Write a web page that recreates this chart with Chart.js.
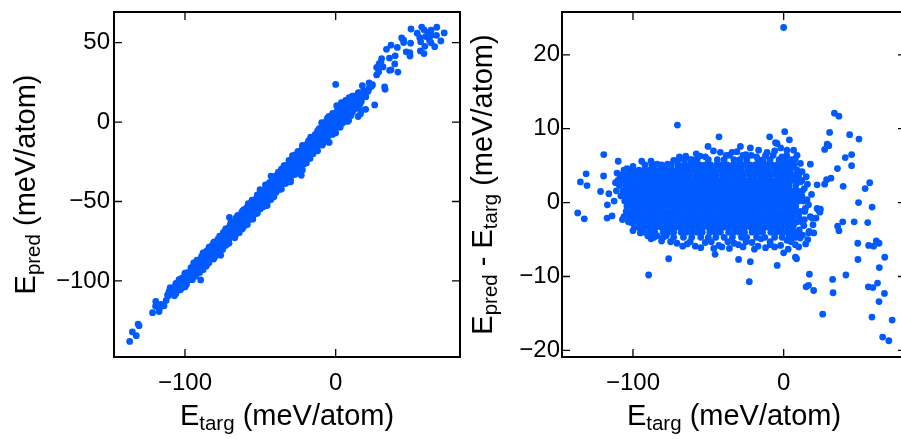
<!DOCTYPE html>
<html>
<head>
<meta charset="utf-8">
<script src="https://cdn.jsdelivr.net/npm/chart.js@4.4.1/dist/chart.umd.min.js"></script>
<style>
  html, body { margin: 0; padding: 0; background: #fff; overflow: hidden; }
  body { width: 901px; height: 439px; position: relative; }
  canvas { position: absolute; top: 0; }
  #parity { left: 0; }
  #resid { left: 460px; }
</style>
</head>
<body>
<canvas id="parity" width="470" height="439"></canvas>
<canvas id="resid" width="460" height="439"></canvas>
<script>
(() => {
  "use strict";

  // ---------- tick values ----------
  const xTicks = [-100, 0];
  const predTicks = [-100, -50, 0, 50];
  const residTicks = [-20, -10, 0, 10, 20];

  // ---------- titles (text, subscript?) ----------
  const xTitle = [["E", 0], ["targ", 1], [" (meV/atom)", 0]];
  const predTitle = [["E", 0], ["pred", 1], [" (meV/atom)", 0]];
  const residTitle = [["E", 0], ["pred", 1], [" - ", 0], ["E", 0], ["targ", 1], [" (meV/atom)", 0]];

  // ---------- data: E_targ and residual E_pred - E_targ (meV/atom) ----------
  // dense core, one list of E_targ per residual row
  const coreResid = [6.4, 5.8, 5.1, 4.4, 3.7, 3.0, 2.3, 1.6, 0.9, 0.2, -0.5, -1.2, -1.9, -2.6, -3.3, -4.0, -4.7, -5.3];
  const coreTarg = [
    [-36, -27, -21.5, -12, -7, 2],
    [-66, -61, -57.5, -50, -44, -39.5, -33, -29, -24.5, -17, -13.5, -9, -3, 1, 5],
    [-92, -87.5, -81, -74.5, -70, -66, -62.5, -59, -55.5, -52, -48.5, -44.5, -41, -37.5, -33.5, -30, -26.5, -22.5, -19, -15.5, -11.5, -8, -4.5, -0.5, 3, 7],
    [-106, -103.5, -100, -96, -92.5, -89, -85.5, -82, -78, -74.5, -71, -67.5, -64, -60, -56.5, -53, -49.5, -46, -42, -38.5, -35, -31.5, -28, -24, -20.5, -17, -13.5, -10, -6, -2.5, 1, 4.5, 9],
    [-108.5, -105.5, -102, -98.5, -94.5, -91, -87.5, -84, -80.5, -76.5, -73, -69.5, -66, -62.5, -58.5, -55, -51.5, -48, -44.5, -40.5, -37, -33.5, -30, -26.5, -22.5, -19, -15.5, -12, -8.5, -4.5, -1, 2.5, 6, 10],
    [-110, -106.5, -103, -99.5, -96, -92.5, -89, -85.5, -82, -78.5, -75, -71.5, -68, -64.5, -61, -57.5, -54, -50.5, -47, -43.5, -40, -36.5, -33, -29.5, -26, -22.5, -19, -15.5, -12, -8.5, -5, -1.5, 2, 5.5, 9, 12],
    [-109, -105, -101.5, -98, -94.5, -91, -87.5, -84, -80.5, -77, -73.5, -70, -66.5, -63, -59.5, -56, -52.5, -49, -45.5, -42, -38.5, -35, -31.5, -28, -24.5, -21, -17.5, -14, -10.5, -7, -3.5, 0, 3.5, 8],
    [-111, -106.5, -103, -99.5, -96, -92.5, -89, -85.5, -82, -78.5, -75, -71.5, -68, -64.5, -61, -57.5, -54, -50.5, -47, -43.5, -40, -36.5, -33, -29.5, -26, -22.5, -19, -15.5, -12, -8.5, -5, -1.5, 2, 5.5, 9, 12.5],
    [-108, -104.5, -101, -97.5, -94, -90.5, -87, -83.5, -80, -76.5, -73, -69.5, -66, -62.5, -59, -55.5, -52, -48.5, -45, -41.5, -38, -34.5, -31, -27.5, -24, -20.5, -17, -13.5, -10, -6.5, -3, 0.5, 4, 7.5, 11],
    [-105.5, -102, -98.5, -95, -91.5, -88, -84.5, -81, -77.5, -74, -70.5, -67, -63.5, -60, -56.5, -53, -49.5, -46, -42.5, -39, -35.5, -32, -28.5, -25, -21.5, -18, -14.5, -11, -7.5, -4, -0.5, 3, 6.5, 10, 13],
    [-104, -100.5, -97, -93.5, -90, -86.5, -83, -79.5, -76, -72.5, -69, -65.5, -62, -58.5, -55, -51.5, -48, -44.5, -41, -37.5, -34, -30.5, -27, -23.5, -20, -16.5, -13, -9.5, -6, -2.5, 1, 4.5, 8],
    [-104.5, -101, -97.5, -94, -90.5, -87, -83.5, -80, -76.5, -73, -69.5, -66, -62.5, -59, -55.5, -52, -48.5, -45, -41.5, -38, -34.5, -31, -27.5, -24, -20.5, -17, -13.5, -10, -6.5, -3, 0.5, 4, 7.5, 11, 14],
    [-106, -102.5, -99, -95.5, -92, -88.5, -85, -81.5, -78, -74.5, -71, -67.5, -64, -60.5, -57, -53.5, -50, -46.5, -43, -39.5, -36, -32.5, -29, -25.5, -22, -18.5, -15, -11.5, -8, -4.5, -1, 2.5, 6, 10],
    [-103, -99.5, -96, -92.5, -89, -85.5, -82, -78.5, -75, -71.5, -68, -64.5, -61, -57.5, -54, -50.5, -47, -43.5, -40, -36.5, -33, -29.5, -26, -22.5, -19, -15.5, -12, -8.5, -5, -1.5, 2, 5.5, 9, 12],
    [-99, -95.5, -92, -88.5, -85, -81.5, -78, -74.5, -71, -67.5, -64, -60.5, -57, -53.5, -50, -46.5, -43, -39.5, -36, -32.5, -29, -25.5, -22, -18.5, -15, -11.5, -8, -4.5, -1, 2.5, 6],
    [-93, -89, -85.5, -80, -76.5, -73, -68, -64.5, -61, -57.5, -54, -49, -45.5, -42, -36.5, -33, -29.5, -26, -21, -17.5, -14, -8.5, -5, -1.5, 2, 5.5, 9],
    [-86, -80, -73, -66.5, -61, -55, -50, -45, -39.5, -34, -28, -24.5, -18, -12.5, -6, -1, 3.5, 8],
    [-75, -62, -48, -37, -25, -9, 5],
  ];

  // scattered points: [E_targ, E_pred - E_targ]
  const leftEdge = [
    [-136.7, -1.4], [-132.3, -2.2], [-134.9, 2.8], [-131.1, 3.9], [-130.5, 2.3], [-121.5, 1.5],
    [-119.4, 6.5], [-119.5, 3.6], [-117, -0.3], [-116, 1.2], [-117.2, -2.1], [-113.9, -1.8],
    [-112.5, 0.2], [-111.6, 2.7], [-110.6, 4.0], [-109.8, 5.6], [-107, -2.3], [-101.2, -2.7],
    [-95.8, -3.4], [-89.6, -9.8], [-76.3, -7.6],
  ];
  const topEdge = [
    [-100, 4.9], [-94.2, 5.6], [-84, 5.2], [-80.5, 5.0], [-77, 5.2], [-69.6, 5.9], [-69.2, 6.2],
    [-70.5, 10.5], [-61.9, 5.8], [-55.5, 6.3], [-50.2, 7.6], [-46.6, 7.0], [-42.9, 8.9], [-42, 6.8],
    [-34.3, 6.8], [-28.7, 7.6], [-22.1, 7.4], [-16.6, 7.1], [-9.3, 8.9], [-5.4, 8.1], [-4.4, 8.0],
    [0.7, 9.6], [3.8, 8.5], [6.6, 7.1], [8.9, 6.4], [11.1, 5.3], [17.7, 5.2], [12.2, 4.2],
    [-1.1, 6.2], [2.2, 7.1], [5.5, 4.9], [3.3, 5.5], [7.7, 5.9],
    [-104, 4.6], [-88, 5.6], [-73, 5.7], [-65, 6.3], [-58, 6.6], [-52, 6.2], [-38, 6.4],
    [-31, 6.9], [-25, 6.5], [-18, 6.2], [-11, 6.8], [-6, 7.0], [-2, 7.4],
  ];
  const bottomEdge = [
    [-95.1, -4.1], [-90.2, -4.5], [-84.1, -4.5], [-77.9, -4.5], [-70.8, -5.5], [-64, -5.6],
    [-58.6, -5.9], [-52, -5.4], [-46.4, -6.2], [-45.5, -7.0], [-41, -6.0], [-33, -5.5], [-29.9, -7.7],
    [-27, -6.0], [-22.1, -8.0], [-22.8, -10.7], [-21, -5.4], [-19.4, -6.3], [-15, -4.9], [-8.8, -5.7],
    [-4.3, -8.5], [0, -6.8], [7.8, -7.4], [8.6, -7.6], [7.8, -5.7], [11, -4.8], [14.6, -5.6],
    [4.4, -4.6], [2.2, -5.1],
    [-100, -3.8], [-88, -4.9], [-81, -5.2], [-67, -5.9], [-55, -6.1], [-43, -5.8], [-36, -6.2],
    [-30, -5.7], [-17, -5.9], [-12, -6.1], [-6, -6.0], [-2, -5.8], [3, -6.3], [10, -6.0],
  ];
  const rightEdge = [
    [22.2, -0.8], [24, -1.3], [21.5, -2.1], [17.7, -1.9], [13.8, -2.3], [13.4, -3.1], [10.4, -3.7],
    [17, -3.9], [20, -4.1], [16.6, -4.1], [6.6, -3.0], [12.2, 0.8], [15.5, 0.4], [13.7, 1.9],
    [11.1, 2.8], [8.8, 3.7], [14.4, -0.8], [23.2, -1.0], [24.4, -0.9], [18.8, -2.1], [15, 3.5], [16.5, -0.3],
    [15.8, 2.5], [18.5, 1.1], [19.5, -3.0], [12.5, -4.4], [16, -5.0],
  ];
  const tail = [
    [0, 23.7], [17.1, -9.7], [14.9, -11.4], [16.5, -11.2], [19.9, -11.9], [25.9, -15.1], [22.2, 2.4],
    [27.2, 2.5], [28.5, 3.1], [27.2, 7.2], [28.9, 7.9], [30.5, 9.5], [30, 7.7], [31.4, 3.3],
    [33.7, 12.1], [36.7, 11.7], [35.7, 4.6], [32.5, -10.4], [32.8, -12.2], [35.8, -3.2], [36.7, -3.8],
    [39.2, -2.6], [39.5, 2.2], [40.9, 6.1], [41.3, -9.8], [43.8, 9.2], [45.1, 6.5], [45.1, 5.0],
    [46.8, -2.6], [49.2, -5.5], [49.3, -7.7], [49.7, 0], [50, 8.6], [54.1, 1.9], [57.1, 2.7],
    [55.8, -2.7], [56.4, -5.8], [58.7, -0.6], [59.7, -5.9], [61.5, -5.2], [63.3, -5.5], [56.2, -11.4],
    [59.2, -11.5], [62.3, -10.9], [58.6, -15.5], [63.5, -8.8], [67.1, -7.4], [63.3, -13.4],
    [66.9, -12.3], [65.7, -18.2], [69.8, -18.7], [72, -15.9],
  ];

  // ---------- style ----------
  const BLUE = "#005aff";
  const FONT = "'Liberation Sans', Arial, Helvetica, sans-serif";
  const TICK_SIZE = 24;
  const TITLE_SIZE = 29;
  const SUB_SIZE = 20.5;

  // ---------- build points ----------
  const residPoints = [];
  coreTarg.forEach((row, i) => row.forEach(x => residPoints.push({ x, y: coreResid[i] })));
  [leftEdge, topEdge, bottomEdge, rightEdge, tail].forEach(group =>
    group.forEach(([x, r]) => residPoints.push({ x, y: r })));
  const predPoints = residPoints.map(p => ({ x: p.x, y: p.x + p.y }));

  const fmt = (v) => (v < 0 ? "\u2212" + Math.abs(v) : String(v));

  // rich text with subscripts, centred on (cx, cy) baseline
  function drawRich(ctx, parts, cx, cy, rot) {
    ctx.save();
    ctx.translate(cx, cy);
    ctx.rotate(rot);
    ctx.fillStyle = "#000";
    ctx.textBaseline = "alphabetic";
    ctx.textAlign = "left";
    const fonts = parts.map(([, sub]) => `${sub ? SUB_SIZE : TITLE_SIZE}px ${FONT}`);
    let total = 0;
    const widths = parts.map(([t], i) => { ctx.font = fonts[i]; const w = ctx.measureText(t).width; total += w; return w; });
    let x = -total / 2;
    parts.forEach(([t, sub], i) => {
      ctx.font = fonts[i];
      ctx.fillText(t, x, sub ? 5 : 0);
      x += widths[i];
    });
    ctx.restore();
  }

  // box, inward ticks on all four sides, axis titles
  const frame = {
    id: "frame",
    afterDraw(chart, _args, opts) {
      const { ctx, chartArea: a, scales } = chart;
      ctx.save();
      ctx.strokeStyle = "#000";
      ctx.lineWidth = 1.3;
      ctx.beginPath();
      scales.x.ticks.forEach(t => {
        const px = scales.x.getPixelForValue(t.value);
        ctx.moveTo(px, a.bottom); ctx.lineTo(px, a.bottom - 8);
        ctx.moveTo(px, a.top); ctx.lineTo(px, a.top + 8);
      });
      scales.y.ticks.forEach(t => {
        const py = scales.y.getPixelForValue(t.value);
        ctx.moveTo(a.left, py); ctx.lineTo(a.left + 8, py);
        ctx.moveTo(a.right, py); ctx.lineTo(a.right - 8, py);
      });
      ctx.stroke();
      ctx.lineWidth = 2;
      ctx.strokeRect(a.left, a.top, a.right - a.left, a.bottom - a.top);
      ctx.restore();
      drawRich(ctx, opts.xTitle, (a.left + a.right) / 2, opts.xBase, 0);
      drawRich(ctx, opts.yTitle, opts.yBase, (a.top + a.bottom) / 2, -Math.PI / 2);
    },
  };

  // no extra room for overhanging tick labels
  const noPad = (s) => { s.paddingTop = 0; s.paddingBottom = 0; s.paddingLeft = 0; s.paddingRight = 0; };

  function makeChart(id, points, cfg) {
    const tickFont = { family: FONT, size: TICK_SIZE };
    return new Chart(document.getElementById(id), {
      type: "scatter",
      data: {
        datasets: [{
          data: points,
          backgroundColor: BLUE,
          borderWidth: 0,
          pointRadius: 3.4,
          pointHoverRadius: 3.4,
        }],
      },
      options: {
        responsive: false,
        animation: false,
        devicePixelRatio: 1,
        events: [],
        layout: { padding: { top: 12, right: cfg.padRight, left: 0, bottom: 0 } },
        plugins: {
          legend: { display: false },
          tooltip: { enabled: false },
          frame: { xTitle, yTitle: cfg.yTitle, xBase: 425, yBase: cfg.yBase },
        },
        scales: {
          x: {
            type: "linear",
            min: -147.1,
            max: cfg.xMax,
            afterBuildTicks: (s) => { s.ticks = xTicks.map(v => ({ value: v })); },
            afterFit: (s) => { s.height = 82; noPad(s); },
            grid: { display: false, drawTicks: false },
            border: { display: false },
            ticks: { font: tickFont, color: "#000", padding: 12, callback: fmt },
          },
          y: {
            type: "linear",
            min: cfg.yMin,
            max: cfg.yMax,
            afterBuildTicks: (s) => { s.ticks = cfg.yTicks.map(v => ({ value: v })); },
            afterFit: (s) => { s.width = cfg.yWidth; noPad(s); },
            grid: { display: false, drawTicks: false },
            border: { display: false },
            ticks: { font: tickFont, color: "#000", padding: cfg.yPad, callback: fmt },
          },
        },
      },
      plugins: [frame],
    });
  }

  makeChart("parity", predPoints, {
    xMax: 82.5, yMin: -147.9, yMax: 69.3, yTicks: predTicks,
    yWidth: 114, yPad: 4, padRight: 10, yTitle: predTitle, yBase: 35,
  });
  makeChart("resid", residPoints, {
    xMax: 81.2, yMin: -20.9, yMax: 25.8, yTicks: residTicks,
    yWidth: 102, yPad: 2, padRight: 14, yTitle: residTitle, yBase: 32,
  });
})();
</script>
</body>
</html>
